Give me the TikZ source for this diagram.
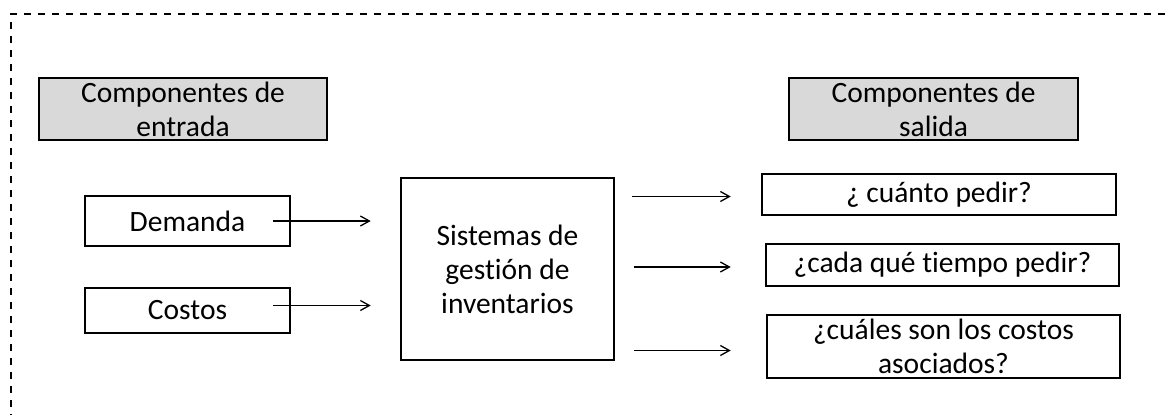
\documentclass[tikz,border=0pt]{standalone}
\usepackage{fontspec}
\setmainfont{Carlito}[Ligatures={NoCommon}]
\usetikzlibrary{arrows.meta}

\tikzset{
  box/.style={draw, line width=2.6pt, align=center, inner sep=0pt,
    font=\fontsize{29.5}{34}\selectfont},
  headbox/.style={box, fill=black!15},
  arr/.style={line width=1.3pt, -{Straight Barb[length=9pt,width=10pt,line width=1.3pt]}}
}

\begin{document}
\begin{tikzpicture}[x=1pt, y=-1pt]
  \useasboundingbox (0,0) rectangle (1165,415);
  \draw[line width=1.5pt, dash pattern=on 7pt off 7pt] (1165,14) -- (11,14) -- (11,415);

  % headers
  \node[headbox, minimum width=288pt, minimum height=62pt] (inhead) at (183,109) {Componentes de\\entrada};
  \node[headbox, minimum width=289pt, minimum height=62pt] (outhead) at (933.5,109) {Componentes de\\salida};

  % inputs
  \node[box, minimum width=205pt, minimum height=50pt] (dem) at (187.5,221) {Demanda};
  \node[box, minimum width=205pt, minimum height=45pt] (cost) at (187.5,310.5) {Costos};

  % system
  \node[box, minimum width=213pt, minimum height=182pt] (sys) at (507.5,269) {Sistemas de\\gestión de\\inventarios};

  % outputs
  \node[box, minimum width=354pt, minimum height=41pt] (q1) at (939,194.5) {¿ cuánto pedir?};
  \node[box, minimum width=353pt, minimum height=42pt] (q2) at (942.5,265) {¿cada qué tiempo pedir?};
  \node[box, minimum width=353pt, minimum height=63pt] (q3) at (943.5,346.5) {¿cuáles son los costos\\asociados?};

  \draw[arr, shorten >=29pt] ([xshift=-18pt]dem.east) -- (dem.east -| sys.west);
  \draw[arr, shorten >=29pt] ([xshift=-18pt, yshift=5pt]cost.east) -- ([yshift=5pt]cost.east -| sys.west);
  \draw[arr, shorten <=17pt, shorten >=30pt] ([yshift=-2pt]q1.west -| sys.east) -- ([yshift=-2pt]q1.west);
  \draw[arr, shorten <=19pt, shorten >=34pt] ([yshift=-2pt]q2.west -| sys.east) -- ([yshift=-2pt]q2.west);
  \draw[arr, shorten <=19pt, shorten >=35pt] ([yshift=-4pt]q3.west -| sys.east) -- ([yshift=-4pt]q3.west);
\end{tikzpicture}
\end{document}
